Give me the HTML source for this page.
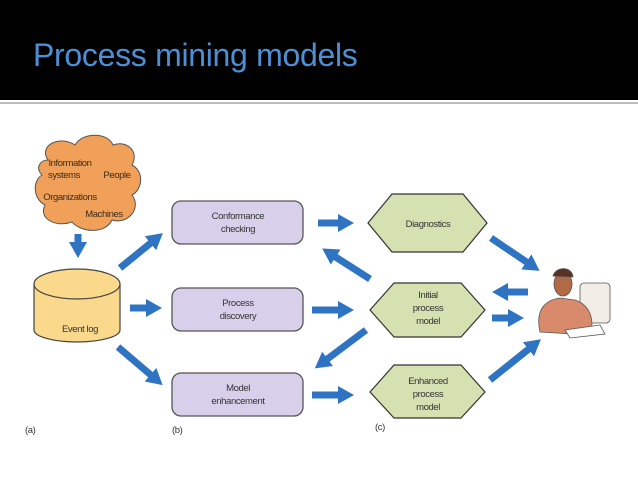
<!DOCTYPE html>
<html><head><meta charset="utf-8"><style>
html,body{margin:0;padding:0;background:#fff;}
body{width:638px;height:479px;overflow:hidden;position:relative;font-family:"Liberation Sans",sans-serif;}
.hdr{position:absolute;left:0;top:0;width:638px;height:100px;background:#000;}
.ttl{position:absolute;left:33px;top:37px;font-family:"Liberation Sans",sans-serif;font-size:32px;line-height:36px;color:#4d8fd5;letter-spacing:-0.3px;}
.ln{position:absolute;left:0;top:102px;width:638px;height:2px;background:#bbb;}
svg{position:absolute;left:0;top:0;}
text{font-family:"Liberation Sans",sans-serif;font-size:9.5px;letter-spacing:-0.4px;fill:#333;text-anchor:middle;}
</style></head><body>
<div class="hdr"></div><div class="ttl">Process mining models</div><div class="ln"></div>
<svg width="638" height="479" viewBox="0 0 638 479">
<defs>
<marker id="a" markerUnits="userSpaceOnUse" markerWidth="20" markerHeight="20" refX="2" refY="10" orient="auto">
<path d="M0,1 L16,10 L0,19 Z" fill="#2e74c2"/></marker>
</defs>
<g fill="#f0a058" stroke="#555" stroke-width="1">
<path d="M48,160 C38,145 60,135 75,145 C82,132 108,132 113,145 C125,140 140,150 132,165 C145,172 142,190 132,195 C142,208 128,225 112,220 C105,235 80,232 72,222 C55,228 38,218 45,205 C32,198 33,180 42,175 C35,168 40,160 48,160 Z"/>
</g>
<g style="fill:#3b2a1a">
<text x="70" y="166" style="fill:#3b2a1a">Information</text>
<text x="64" y="178" style="fill:#3b2a1a">systems</text>
<text x="117" y="178" style="fill:#3b2a1a">People</text>
<text x="70" y="200" style="fill:#3b2a1a">Organizations</text>
<text x="104" y="217" style="fill:#3b2a1a">Machines</text>
</g>
<path d="M34,284 L34,330 A43,12 0 0 0 120,330 L120,284" fill="#fbd98c" stroke="#444" stroke-width="1.2"/>
<ellipse cx="77" cy="284" rx="43" ry="15" fill="#fbd98c" stroke="#444" stroke-width="1.2"/>
<text x="80" y="332">Event log</text>
<g fill="#d8d0ea" stroke="#555" stroke-width="1.3">
<rect x="172" y="201" width="131" height="43" rx="9"/>
<rect x="172" y="288" width="131" height="43" rx="9"/>
<rect x="172" y="373" width="131" height="43" rx="9"/>
</g>
<text x="238" y="219">Conformance</text><text x="238" y="232">checking</text>
<text x="238" y="306">Process</text><text x="238" y="319">discovery</text>
<text x="238" y="391">Model</text><text x="238" y="404">enhancement</text>
<g fill="#d6e1b2" stroke="#333" stroke-width="1.2">
<polygon points="368,223 392,194 463,194 487,223 463,252 392,252"/>
<polygon points="370,310 394,283 461,283 485,310 461,337 394,337"/>
<polygon points="370,392 394,365 461,365 485,392 461,418 394,418"/>
</g>
<text x="428" y="227">Diagnostics</text>
<text x="428" y="298">Initial</text><text x="428" y="311">process</text><text x="428" y="324">model</text>
<text x="428" y="384">Enhanced</text><text x="428" y="397">process</text><text x="428" y="410">model</text>
<text x="25" y="433" style="text-anchor:start">(a)</text>
<text x="172" y="433" style="text-anchor:start">(b)</text>
<text x="375" y="430" style="text-anchor:start">(c)</text>
<g stroke="#2e74c2" stroke-width="7" fill="none" marker-end="url(#a)">
<line x1="78" y1="234" x2="78" y2="244"/>
<line x1="120" y1="268" x2="152" y2="242"/>
<line x1="130" y1="308" x2="148" y2="308"/>
<line x1="118" y1="347" x2="152" y2="376"/>
<line x1="318" y1="223" x2="340" y2="223"/>
<line x1="312" y1="310" x2="340" y2="310"/>
<line x1="312" y1="395" x2="340" y2="395"/>
<line x1="370" y1="279" x2="334" y2="256"/>
<line x1="366" y1="330" x2="326" y2="360"/>
<line x1="491" y1="238" x2="528" y2="263"/>
<line x1="528" y1="292" x2="506" y2="292"/>
<line x1="492" y1="318" x2="510" y2="318"/>
<line x1="490" y1="380" x2="530" y2="348"/>
</g>
<g stroke="#555" stroke-width="0.8">
<rect x="580" y="283" width="30" height="40" rx="4" fill="#f2ece6"/>
<path d="M540,332 C535,310 545,300 560,298 L575,300 C590,305 595,320 590,335 Z" fill="#d88a6a"/>
<ellipse cx="563" cy="284" rx="9" ry="12" fill="#b06a45"/>
<path d="M553,276 C556,266 572,266 573,277 Z" fill="#5a3020"/>
<path d="M565,330 L600,325 L605,334 L570,338 Z" fill="#fff"/>
</g>
</svg>
</body></html>
